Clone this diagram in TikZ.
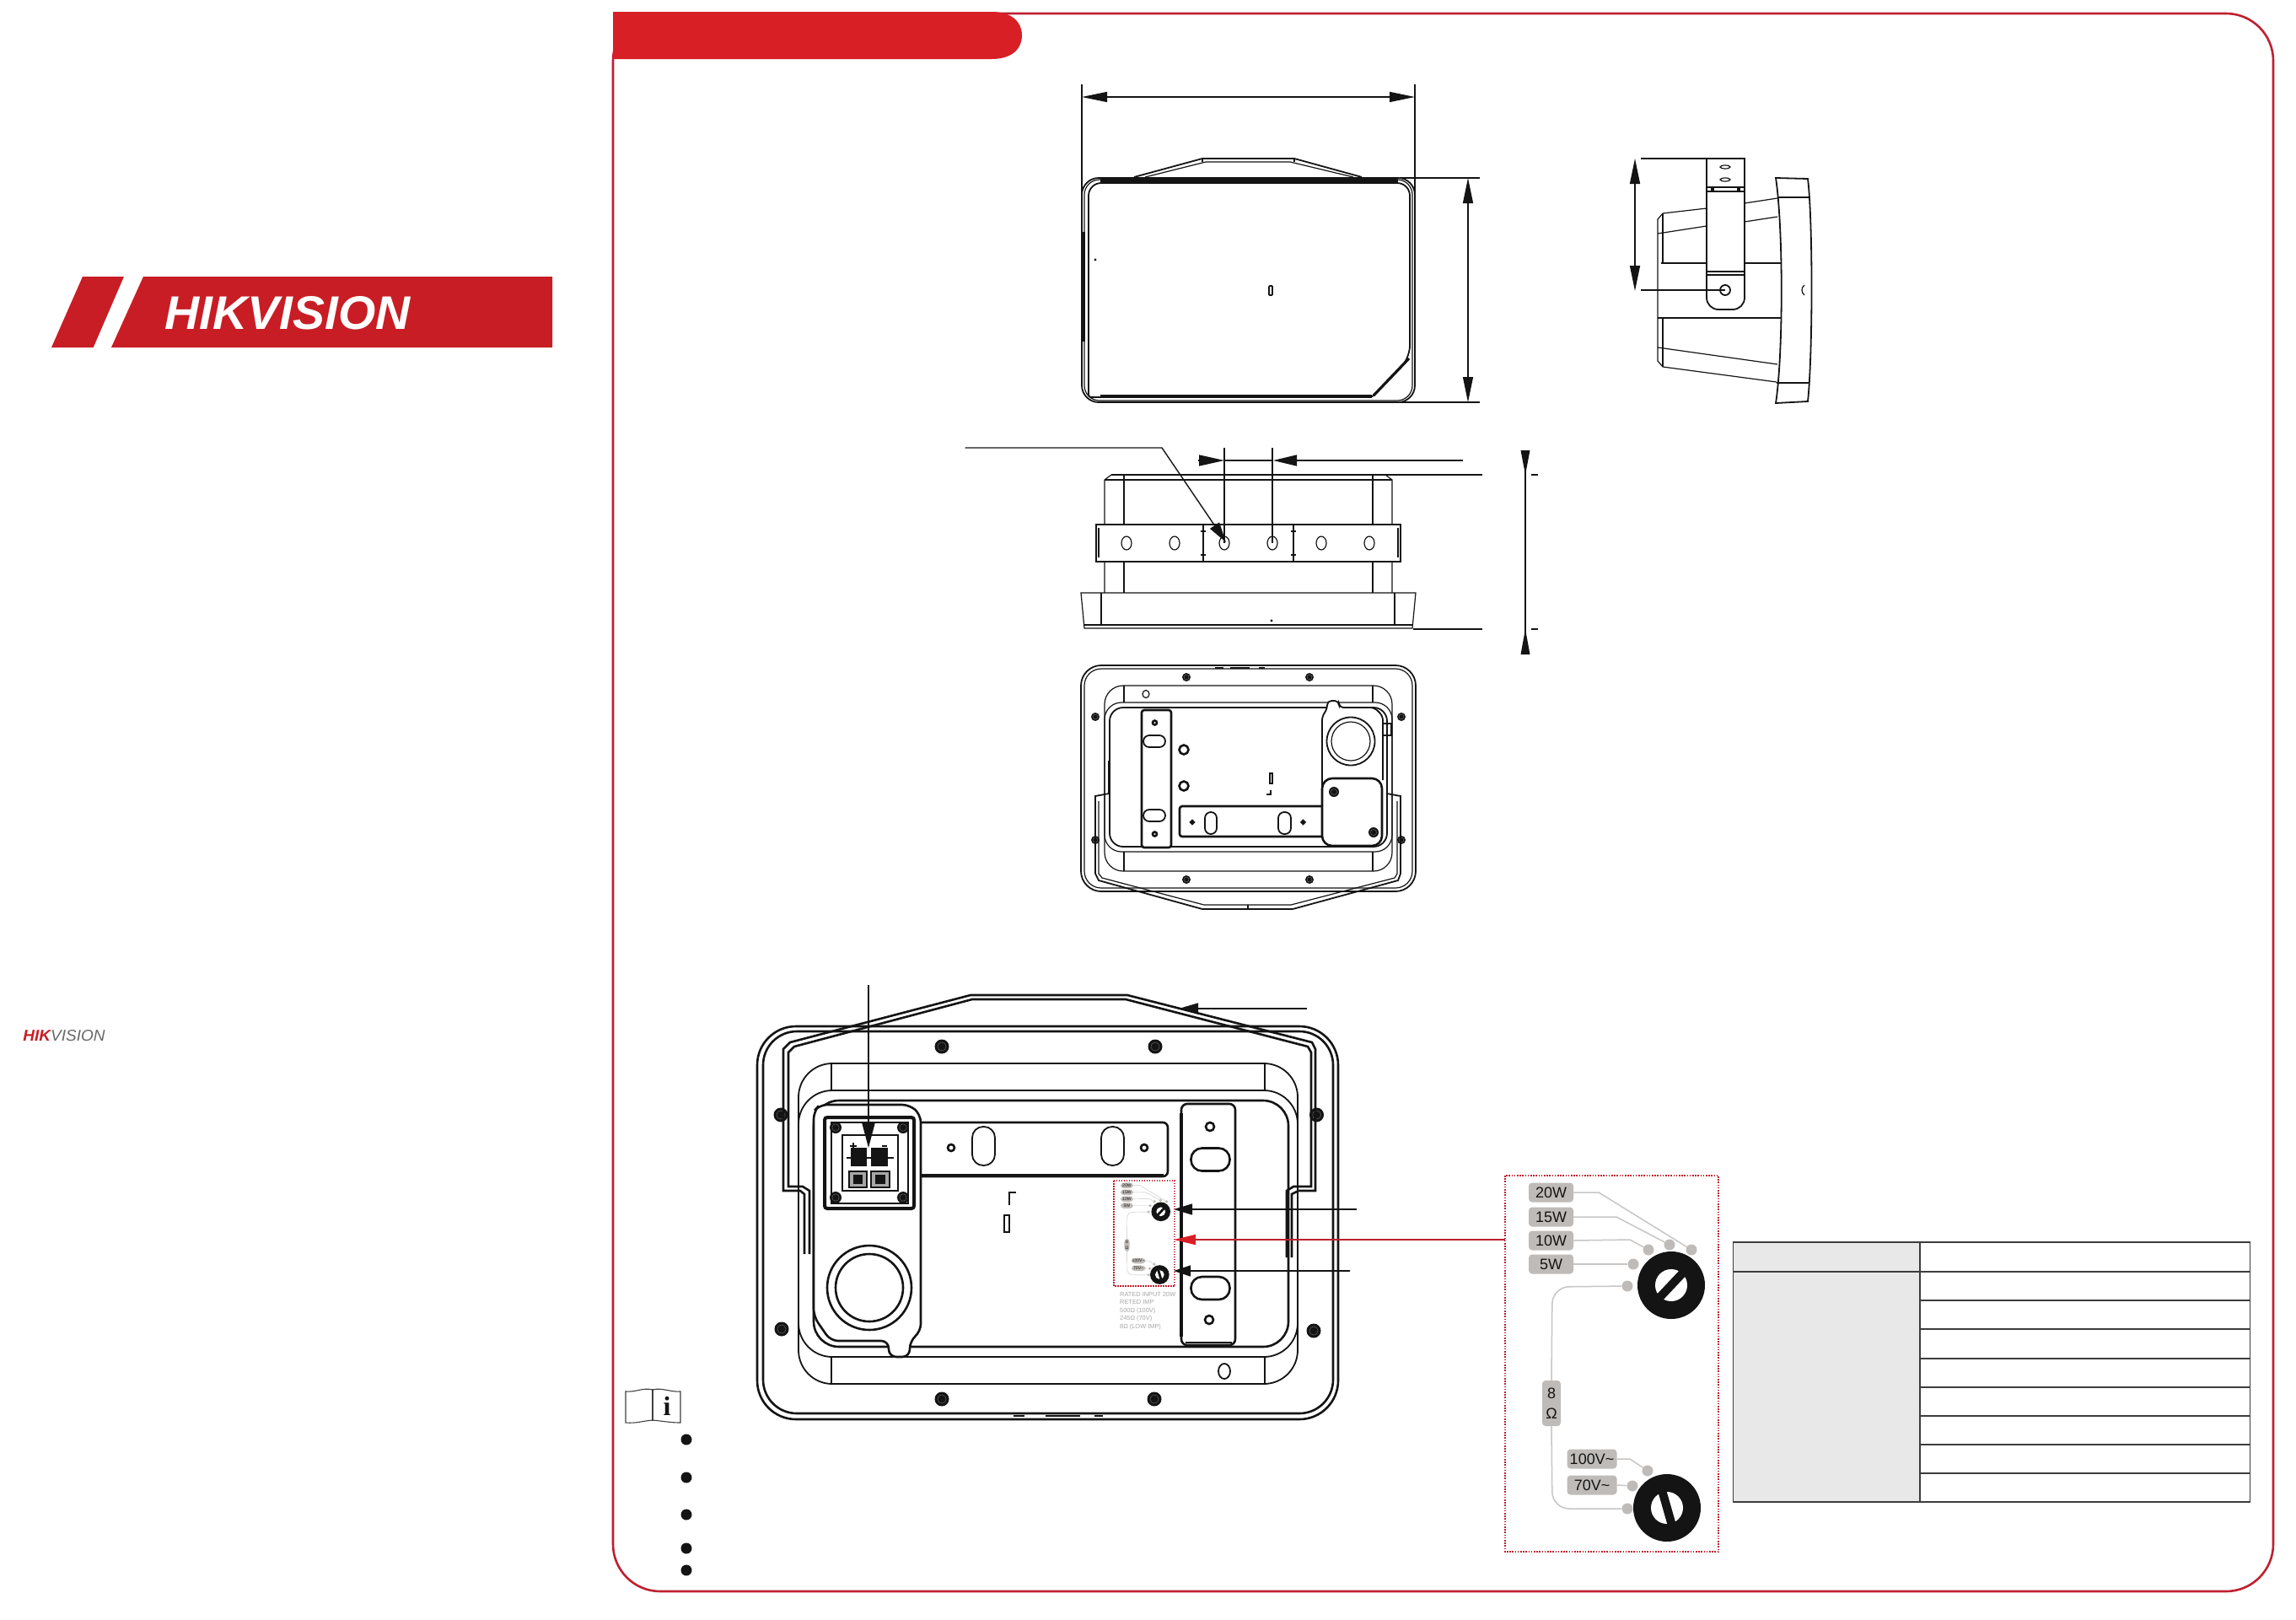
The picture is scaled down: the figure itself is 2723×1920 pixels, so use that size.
\documentclass[tikz,border=0pt]{standalone}
\usepackage{fontspec}
\setmainfont{Liberation Sans}
\newfontfamily\serifbold[BoldFont={Liberation Serif Bold}]{Liberation Serif}
\usetikzlibrary{arrows.meta}
\definecolor{bandred}{HTML}{D81F26}
\definecolor{framered}{HTML}{BE2030}
\definecolor{logored}{HTML}{C81D25}
\definecolor{chipgray}{HTML}{BFBBB8}
\definecolor{wiregray}{HTML}{C8C6C4}
\definecolor{ink}{HTML}{141414}
\definecolor{rowgray}{HTML}{E8E8E8}
\definecolor{tablegray}{HTML}{3C3C3C}
\tikzset{
 thin line/.style={draw=ink,line width=1.2pt},
 mid line/.style={draw=ink,line width=1.8pt},
 heavy line/.style={draw=ink,line width=2.6pt},
 dimline/.style={draw=ink,line width=1.4pt},
 headA/.style={{Triangle[length=30pt,width=12pt]}-{Triangle[length=30pt,width=12pt]}},
 headE/.style={-{Triangle[length=24pt,width=13pt]}},
 chip/.style={fill=chipgray,rounded corners=4pt,inner sep=0pt,minimum width=53pt,minimum height=23pt,font=\fontsize{18}{22}\selectfont,text=ink},
 wiredot/.style={circle,fill=chipgray,inner sep=0pt,minimum size=13pt},
}
\newcommand{\screwmark}[3]{\fill[ink] (#1,#2) circle[radius=#3]; \draw[black!55,line width=.4pt] (#1,#2) circle[radius=#3*0.6];}
\newcommand{\ringmark}[3]{\draw[heavy line,fill=white] (#1,#2) circle[radius=#3];}
\newcommand{\switchpanel}[4]{%
 \begin{scope}[shift={(#2,#3)},scale=#4,shift={(-1785,-1394)},transform shape]
  \pgfmathsetlengthmacro{\swrad}{#4*20pt}
  \tikzset{wire/.style={draw=wiregray,line width=#4*1.5pt}}
  \fill[ink] (1982,1524) circle[radius=40];
  \fill[white] (1982,1524) circle[radius=19];
  \draw[ink,line width=#4*10pt] (1966,1541) -- (1998,1507);
  \fill[ink] (1977,1788) circle[radius=40];
  \fill[white] (1977,1788) circle[radius=19];
  \draw[ink,line width=#4*10pt] (1971,1767) -- (1983,1809);
  \node[chip] (#1w20) at (1839.5,1414) {20W};
  \node[chip] (#1w15) at (1839.5,1443) {15W};
  \node[chip] (#1w10) at (1839.5,1471) {10W};
  \node[chip] (#1w5) at (1839.5,1499) {5W};
  \node[chip,minimum width=22pt,minimum height=54pt,align=center] (#1ohm) at (1840,1664) {8\\[2pt]Ω};
  \node[chip,minimum width=59pt] (#1v100) at (1888,1730) {100V\textasciitilde};
  \node[chip,minimum width=59pt] (#1v70) at (1888,1761) {70V\textasciitilde};
  \node[wiredot] (#1d20) at (2006,1482) {};
  \node[wiredot] (#1d15) at (1980,1476) {};
  \node[wiredot] (#1d10) at (1955,1482) {};
  \node[wiredot] (#1d5) at (1937,1499) {};
  \node[wiredot] (#1d0) at (1930,1525) {};
  \node[wiredot] (#1e100) at (1954,1744) {};
  \node[wiredot] (#1e70) at (1936,1762) {};
  \node[wiredot] (#1e0) at (1930,1789) {};
  \draw[wire] (#1w20.east) -- (1896,1414) -- (#1d20);
  \draw[wire] (#1w15.east) -- (1917,1443) -- (#1d15);
  \draw[wire] (#1w10.east) -- (1933,1470) -- (#1d10);
  \draw[wire] (#1w5.east) -- (#1d5);
  \draw[wire,rounded corners=\swrad] (#1ohm.north) -- (1841,1526) -- (#1d0);
  \draw[wire,rounded corners=\swrad] (#1ohm.south) -- (1841,1789) -- (#1e0);
  \draw[wire] (#1v100.east) -- (1933,1730) -- (#1e100);
  \draw[wire] (#1v70.east) -- (#1e70);
 \end{scope}}
\begin{document}
\begin{tikzpicture}[x=1pt,y=-1pt]
\useasboundingbox (0,0) rectangle (2723,1920);
\fill[white] (0,0) rectangle (2723,1920);

% --- left cover logos
\fill[logored] (61,412) -- (98,328) -- (147,328) -- (110.7,412) -- cycle;
\fill[logored] (132,412) -- (170,328) -- (655,328) -- (655,412) -- cycle;
\node[inner sep=0pt,text=white] (biglogo) at (341,371) {\resizebox{291pt}{39pt}{\bfseries\itshape HIKVISION}};
\node[inner sep=0pt] (smalllogo) at (76,1228) {\resizebox{97pt}{13pt}{\itshape\textcolor{logored}{\bfseries HIK}\textcolor{black!60}{VISION}}};

% --- frame and band
\draw[framered,line width=2.6pt,rounded corners=56pt] (727,16) -- (2696,16) -- (2696,1887) -- (727,1887) -- cycle;
\fill[bandred] (727,14) -- (1176,14) .. controls (1200,14) and (1212,26) .. (1212,42) .. controls (1212,58) and (1200,70) .. (1176,70) -- (727,70) -- cycle;

% --- top view
\coordinate (tvL) at (1283,115);
\coordinate (tvR) at (1678,115);
\draw[dimline] (1283,100) -- (1283,240);
\draw[dimline] (1678,100) -- (1678,240);
\draw[dimline,headA] (tvL) -- (tvR);
\draw[mid line] (1345,210) -- (1426,188) -- (1535,188) -- (1615,210);
\draw[thin line] (1358,210) -- (1430,192) -- (1530,192) -- (1605,210);
\draw[thin line] (1426,192) -- (1426,188);
\draw[thin line] (1535,192) -- (1535,188);
\draw[mid line,rounded corners=20pt] (1283,211) rectangle (1678,477);
\draw[thin line,rounded corners=18pt] (1286,213) rectangle (1675,475);
\draw[mid line,rounded corners=15pt] (1291,217) -- (1672,217) -- (1672,425) [rounded corners=3pt] -- (1627,471) -- (1291,471) [rounded corners=15pt] -- cycle;
\draw[ink,line width=4pt] (1305,214) -- (1658,214);
\draw[ink,line width=4pt] (1305,470) -- (1627,470);
\draw[ink,line width=3.2pt] (1629,469) -- (1671,425);
\draw[ink,line width=3pt] (1285,275) -- (1285,405);
\fill[ink] (1299,308) circle[radius=1.6];
\draw[mid line,fill=white,rounded corners=1pt] (1505,339) rectangle (1509,350);
\coordinate (tvT) at (1741,211);
\coordinate (tvB) at (1741,477);
\draw[dimline] (1660,211) -- (1755,211);
\draw[dimline] (1660,477) -- (1755,477);
\draw[dimline,headA] (tvT) -- (tvB);

% --- side view
\coordinate (svT) at (1939,188);
\coordinate (svB) at (1939,345);
\draw[dimline,headA] (svT) -- (svB);
\draw[dimline] (1946,188) -- (2069,188);
% horn
\draw[thin line] (1972,253) -- (2024,247);
\draw[thin line] (2069,241) -- (2108,235);
\draw[thin line] (1966,277) -- (2024,268);
\draw[thin line] (2069,263) -- (2108,257);
\draw[thin line] (1972,253) -- (1966,260) -- (1966,428) -- (1972,435);
\draw[thin line] (1972,253) -- (1972,312);
\draw[thin line] (1972,377) -- (1972,435);
\draw[ink,line width=2.2pt] (1970,312) -- (2024,312);
\draw[ink,line width=2.2pt] (2069,312) -- (2112,312);
\draw[thin line] (1966,377) -- (2112,377);
\draw[thin line] (1966,412) -- (2108,432);
\draw[thin line] (1972,435) -- (2107,453);
% front panel
\draw[mid line] (2106,211) -- (2144,212) .. controls (2150,260) and (2150,420) .. (2144,476) -- (2106,478) .. controls (2115,420) and (2115,270) .. (2106,211) -- cycle;
\draw[thin line] (2108,234) -- (2145,234);
\draw[thin line] (2107,454) -- (2145,454);
\draw[thin line] (2140,338) .. controls (2136,341) and (2136,347) .. (2140,350);
% bracket
\draw[mid line,fill=white,rounded corners=14pt] (2024,188) [sharp corners] -- (2069,188) [rounded corners=14pt] -- (2069,367) -- (2024,367) [sharp corners] -- (2024,188);
\draw[thin line] (2024,222) -- (2069,222);
\draw[thin line] (2024,227) -- (2069,227);
\fill[ink] (2029,222) rectangle (2033,227);
\fill[ink] (2060,222) rectangle (2064,227);
\draw[thin line] (2024,322) -- (2069,322);
\draw[thin line] (2024,326) -- (2069,326);
\draw[thin line] (2046,198) ellipse[x radius=6,y radius=2];
\draw[thin line] (2046,213) ellipse[x radius=6,y radius=2];
\draw[mid line] (2046,344) circle[radius=6];
\draw[dimline] (1946,344) -- (2046,344);

% --- front (underside) view
\draw[thin line] (1318,563) -- (1310,569) -- (1310,703);
\draw[thin line] (1643,563) -- (1651,569) -- (1651,703);
\draw[dimline] (1318,563) -- (1758,563);
\draw[thin line] (1310,569) -- (1651,569);
\draw[thin line] (1333,563) -- (1333,703);
\draw[thin line] (1628,563) -- (1628,703);
\draw[thin line,fill=white] (1300,622) rectangle (1661,666);
\draw[thin line] (1303,626) -- (1303,661);
\draw[thin line] (1658,626) -- (1658,661);
\foreach \hx in {1336,1393,1452,1509,1567,1624} {\draw[thin line] (\hx,644) ellipse[x radius=6,y radius=8];}
\foreach \mx in {1427,1534} {\draw[ink,line width=1.8pt] (\mx,622) -- (\mx,666); \draw[ink,line width=1.8pt] (\mx-3,630) -- (\mx+3,630); \draw[ink,line width=1.8pt] (\mx-3,658) -- (\mx+3,658);}
\draw[thin line] (1282,703) -- (1679,703) -- (1675,745) -- (1286,745) -- cycle;
\draw[thin line] (1306,703) -- (1306,741);
\draw[thin line] (1654,703) -- (1654,741);
\draw[mid line] (1286,741) -- (1675,741);
\draw[dimline] (1676,746) -- (1758,746);
\fill[ink] (1508,736) circle[radius=1.6];
\coordinate (lead1) at (1144.5,531);
\coordinate (lead2) at (1378,531);
\coordinate (leadhole) at (1454,643);
\draw[dimline,headE] (lead1) -- (lead2) -- (leadhole);
\coordinate (fdA) at (1452,546);
\coordinate (fdAs) at (1421,546);
\coordinate (fdB) at (1510,546);
\coordinate (fdBs) at (1735,546);
\draw[dimline] (1452,531) -- (1452,644);
\draw[dimline] (1509,531) -- (1509,644);
\draw[dimline] (fdA) -- (fdB);
\draw[dimline,-{Triangle[length=30pt,width=13pt]}] (fdAs) -- (fdA);
\draw[dimline,-{Triangle[length=28pt,width=13pt]}] (fdBs) -- (fdB);
\coordinate (fvT) at (1809,534);
\coordinate (fvB) at (1809,776);
\draw[dimline] (fvT) -- (fvB);
\fill[ink] (1803.5,534) -- (1814.5,534) -- (1809,563) -- cycle;
\fill[ink] (1803.5,776) -- (1814.5,776) -- (1809,746) -- cycle;
\draw[dimline] (1816,563) -- (1824,563);
\draw[dimline] (1816,746) -- (1824,746);

% --- rear view (small)
\draw[mid line,rounded corners=24pt] (1282,789) rectangle (1679,1057);
\draw[thin line,rounded corners=20pt] (1286,793) rectangle (1675,1053);
\foreach \sx/\sy in {1407/803,1553/803,1407/1043,1553/1043,1299/850,1662/850,1299/996,1662/996} {\screwmark{\sx}{\sy}{5}}
\draw[ink,line width=2.4pt] (1441,792) -- (1451,792);
\draw[ink,line width=2.4pt] (1459,792) -- (1482,792);
\draw[ink,line width=2.4pt] (1493,792) -- (1500,792);
\draw[thin line,rounded corners=22pt] (1310,813) rectangle (1651,1033);
\draw[thin line] (1333,813) -- (1333,833);
\draw[thin line] (1628,813) -- (1628,833);
\draw[thin line] (1333,1010) -- (1333,1033);
\draw[thin line] (1628,1010) -- (1628,1033);
\draw[thin line,rounded corners=20pt] (1310,833) rectangle (1651,1010);
\draw[mid line,rounded corners=16pt] (1316,839) rectangle (1645,1004);
\draw[thin line] (1359,823) ellipse[x radius=4,y radius=4.5];
\draw[heavy line,fill=white,rounded corners=3pt] (1354,842) rectangle (1389,1005);
\ringmark{1369.5}{857}{2.5}
\ringmark{1369.5}{989}{2.5}
\draw[mid line,rounded corners=7pt,fill=white] (1356,872) rectangle (1382,886);
\draw[mid line,rounded corners=7pt,fill=white] (1356,960) rectangle (1382,974);
\ringmark{1404}{889}{5.5}
\ringmark{1404}{932}{5.5}
\draw[heavy line,fill=white,rounded corners=3pt] (1399,956) rectangle (1575,992);
\draw[mid line,fill=white,rounded corners=7pt] (1429,963) rectangle (1443,989);
\draw[mid line,fill=white,rounded corners=7pt] (1516,963) rectangle (1531,989);
\ringmark{1414}{975}{1.8}
\ringmark{1545.5}{975}{1.8}
\draw[mid line] (1506,917) rectangle (1509,929);
\draw[mid line] (1502,942) -- (1507,942) -- (1507,937);
\draw[mid line,fill=white,rounded corners=5pt] (1568,940) -- (1568,849) -- (1574,841) -- (1574,831) -- (1588,831) -- (1588,839) -- (1630,839) -- (1640,849) -- (1640,925);
\draw[mid line] (1602,879) circle[radius=28.5];
\draw[thin line] (1602,879) circle[radius=23];
\draw[mid line] (1640,858) -- (1650,858) -- (1650,872) -- (1640,872);
\draw[heavy line,fill=white,rounded corners=12pt] (1568,923) rectangle (1639,1003);
\screwmark{1582}{939}{6}
\screwmark{1629}{987}{6}
% rear handle
\draw[mid line] (1315,902) -- (1315,941) -- (1299,944) -- (1299,1036) -- (1303,1044) -- (1426,1078) -- (1533,1078) -- (1658,1044) -- (1661,1036) -- (1661,944) -- (1645,941) -- (1645,902);
\draw[thin line] (1303,950) -- (1303,1036) -- (1307,1041) -- (1428,1073) -- (1531,1073) -- (1654,1041) -- (1657,1036) -- (1657,950);
\draw[thin line] (1480,1073) -- (1480,1078);

% --- large rear view
\draw[heavy line,rounded corners=46pt] (898,1217) rectangle (1587,1683);
\draw[heavy line,rounded corners=40pt] (905,1223) rectangle (1581,1676);
\foreach \sx/\sy in {1117/1241,1370/1241,1117/1659,1369/1659,926/1322,1561.5/1322,927/1576,1558/1578} {\screwmark{\sx}{\sy}{8.5}}
\draw[ink,line width=2.6pt] (1202,1679) -- (1215,1679);
\draw[ink,line width=2.6pt] (1240,1679) -- (1281,1679);
\draw[ink,line width=2.6pt] (1298,1679) -- (1308,1679);
\draw[mid line,rounded corners=40pt] (947,1261) rectangle (1539,1641);
\draw[mid line] (986,1261) -- (1500,1261);
\draw[thin line] (986,1261) -- (986,1293);
\draw[thin line] (1500,1261) -- (1500,1293);
\draw[thin line] (986,1609) -- (986,1641);
\draw[thin line] (1500,1609) -- (1500,1641);
\draw[mid line,rounded corners=40pt] (947,1293) rectangle (1539,1609);
\draw[heavy line,rounded corners=30pt] (965,1305) rectangle (1528,1597);
% horizontal strip
\draw[heavy line,fill=white,rounded corners=6pt] (1075,1331) rectangle (1385,1395);
\draw[mid line] (1092,1393) -- (1380,1393);
\draw[mid line,fill=white,rounded corners=13pt] (1153,1336) rectangle (1180,1382);
\draw[mid line,fill=white,rounded corners=13pt] (1306,1336) rectangle (1333,1382);
\ringmark{1128}{1361}{4}
\ringmark{1357}{1361}{4}
% terminal cover
\draw[heavy line,fill=white,rounded corners=9pt] (972,1310) -- (1079,1310) -- (1092,1322) -- (1092,1579) -- (1079,1590) -- (1079,1609) -- (1054,1609) -- (1054,1590) -- (985,1590) -- (965,1561) -- (965,1318) -- cycle;
\draw[ink,line width=4pt,rounded corners=3pt] (978,1325) rectangle (1084,1433);
\draw[heavy line] (999,1346) rectangle (1065,1412);
\draw[mid line] (986,1331) rectangle (1077,1427);
\foreach \sx/\sy in {991/1337,1071/1337,991/1420,1071/1420} {\screwmark{\sx}{\sy}{7}}
\fill[ink] (1009,1361) rectangle (1028,1383);
\fill[ink] (1033,1361) rectangle (1053,1383);
\draw[mid line] (1004,1373) -- (1060,1373);
\draw[ink,line width=2pt] (1008,1359) -- (1016,1359);
\draw[ink,line width=2pt] (1012,1355) -- (1012,1363);
\draw[ink,line width=2pt] (1046,1359) -- (1052,1359);
\draw[heavy line,fill=black!35] (1007,1389) rectangle (1028,1408);
\draw[heavy line,fill=black!35] (1033,1389) rectangle (1055,1408);
\fill[ink] (1012,1393) rectangle (1023,1404);
\fill[ink] (1038,1393) rectangle (1050,1404);
\draw[heavy line] (1031,1527) circle[radius=50];
\draw[heavy line] (1031,1527) circle[radius=40];
% vertical strip
\draw[heavy line,fill=white,rounded corners=7pt] (1401,1309) rectangle (1465,1595);
\draw[ink,line width=3.4pt] (1401,1320) -- (1401,1585);
\draw[mid line] (1406,1592) -- (1461,1592);
\ringmark{1435}{1336}{5}
\ringmark{1434}{1565}{5}
\draw[heavy line,rounded corners=13pt] (1412.5,1361.5) rectangle (1458.5,1388.5);
\draw[heavy line,rounded corners=13pt] (1412.5,1514) rectangle (1458.5,1541);
\draw[mid line] (1452,1626) ellipse[x radius=7,y radius=9];
\draw[ink,line width=2.2pt] (1197,1429) -- (1197,1414) -- (1205,1414);
\draw[mid line] (1191,1441) rectangle (1197,1461);
% large handle
\draw[heavy line] (954,1487) -- (954,1416) -- (949,1412) -- (929,1412) -- (929,1244) -- (937,1236) -- (1151,1180) -- (1337,1180) -- (1556,1236) -- (1560,1244) -- (1560,1412) -- (1540,1412) -- (1532,1416) -- (1532,1491);
\draw[heavy line] (960,1487) -- (960,1412) -- (952,1407) -- (935,1407) -- (935,1248) -- (942,1241) -- (1153,1185) -- (1335,1185) -- (1551,1241) -- (1555,1248) -- (1555,1407) -- (1534,1407) -- (1526,1412) -- (1526,1491);

% --- leaders on the large view
\coordinate (termTop) at (1030,1168);
\coordinate (termTip) at (1030,1361);
\draw[dimline,-{Triangle[length=29pt,width=15pt]}] (termTop) -- (termTip);
\coordinate (hndS) at (1550,1196);
\coordinate (hndT) at (1398,1196);
\draw[dimline,-{Triangle[length=23pt,width=13pt]}] (hndS) -- (hndT);
\coordinate (swaS) at (1609,1434);
\coordinate (swaT) at (1392,1434);
\draw[dimline,-{Triangle[length=22pt,width=13pt]}] (swaS) -- (swaT);
\coordinate (swbS) at (1601,1507);
\coordinate (swbT) at (1392,1507);
\draw[dimline,-{Triangle[length=20pt,width=13pt]}] (swbS) -- (swbT);

% --- small copy of the switch panel
\draw[framered,line width=1.4pt,dash pattern=on 1.5pt off 1.5pt] (1321,1400) rectangle (1393,1525);
\switchpanel{s}{1321}{1400}{0.283}
\node[anchor=west,inner sep=0pt,text=black!35,font=\fontsize{7.4}{9.6}\selectfont,align=left] (ratingtext) at (1328,1554.5) {RATED INPUT 20W\\RETED IMP\\500Ω (100V)\\245Ω (70V)\\8Ω (LOW IMP)};

% --- enlarged switch panel
\draw[framered,line width=1.6pt,dash pattern=on 1.6pt off 1.6pt] (1785,1394) rectangle (2038,1840);
\switchpanel{b}{1785}{1394}{1}
\coordinate (zoomS) at (1785,1470);
\coordinate (zoomT) at (1392,1470);
\draw[draw=framered,line width=1.5pt,-{Triangle[length=26pt,width=12pt,color=bandred]}] (zoomS) -- (zoomT);

% --- table
\fill[rowgray] (2055.5,1473) rectangle (2277,1781);
\draw[draw=tablegray,line width=1.5pt] (2055.5,1473) rectangle (2668.6,1781);
\draw[draw=tablegray,line width=1.5pt] (2277,1473) -- (2277,1781);
\draw[draw=tablegray,line width=1.6pt] (2055.5,1508) -- (2668.6,1508);
\foreach \ry in {1542,1576,1611,1645,1679,1713,1747} {\draw[draw=tablegray,line width=1.3pt] (2277,\ry) -- (2668.6,\ry);}

% --- note icon and bullets
\draw[draw=black!75,line width=1.1pt] (742,1650) .. controls (755,1651) and (762,1645) .. (774,1648) .. controls (785,1645) and (795,1651) .. (807,1650) -- (807,1687) .. controls (795,1687) and (785,1685) .. (774,1684) .. controls (762,1685) and (755,1688) .. (742,1687) -- cycle;
\draw[draw=black!75,line width=1.1pt] (774,1647) -- (774,1685);
\node[inner sep=0pt,font=\serifbold\bfseries\fontsize{32}{32}\selectfont,text=ink] (infoi) at (791,1667) {i};
\foreach \by in {1707,1752,1796,1836,1862} {\fill[ink] (814,\by) circle[radius=6.5];}
\end{tikzpicture}
\end{document}
